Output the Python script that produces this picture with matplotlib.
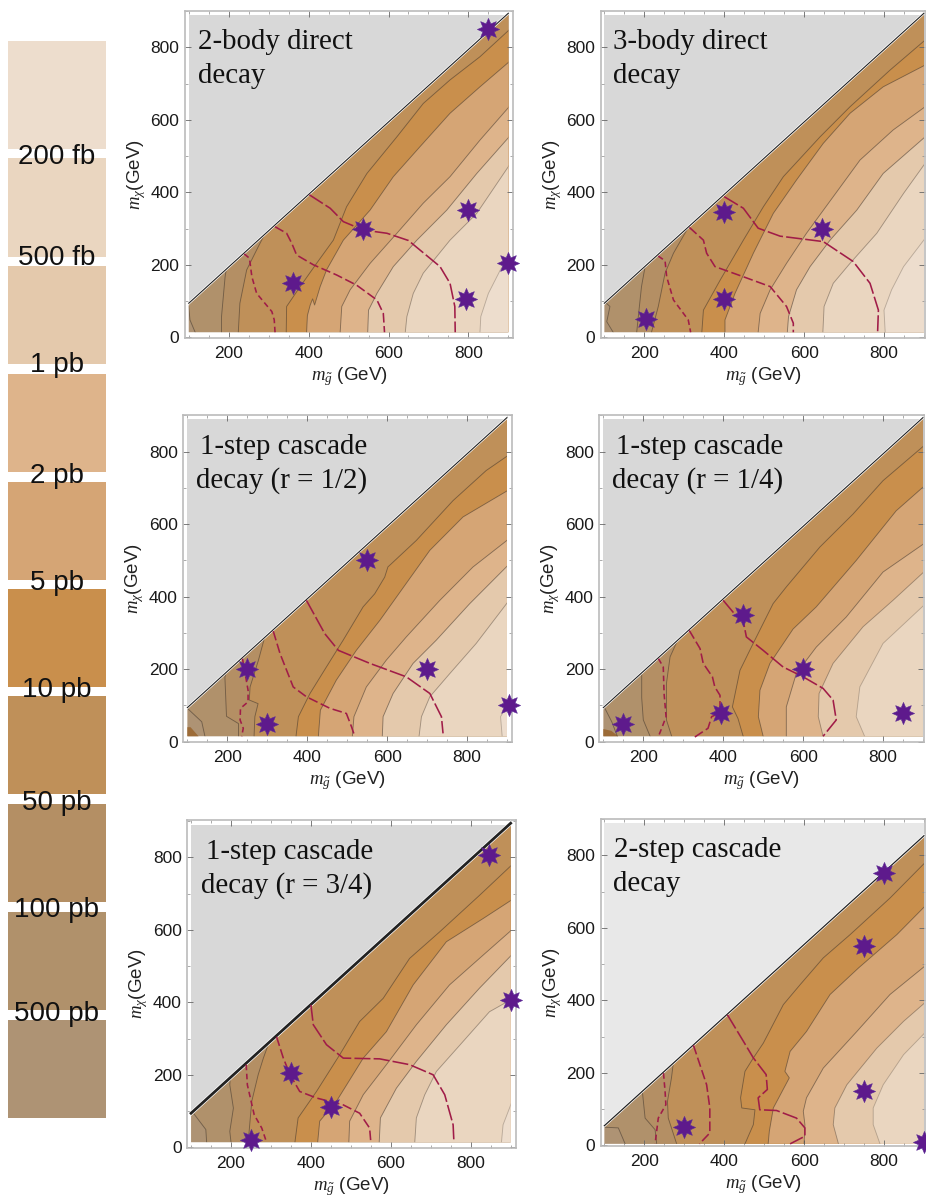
import matplotlib
matplotlib.use('Agg')
import matplotlib.pyplot as plt
from matplotlib.patches import Polygon
from matplotlib.path import Path

plt.rcParams['font.family'] = ['Liberation Sans', 'DejaVu Sans']
plt.rcParams['mathtext.fontset'] = 'custom'
plt.rcParams['mathtext.rm'] = 'Liberation Sans'
plt.rcParams['mathtext.it'] = 'Liberation Serif:italic'

# Colour key, lightest first
key_colors = ['#EDDDCD', '#EAD6C0', '#E4C9AC', '#DEB48B', '#D5A575', '#C98F4C', '#BF9059', '#B48F64', '#B0916B', '#AE9374']
key_labels = ['200 fb', '500 fb', '1 pb', '2 pb', '5 pb', '10 pb', '50 pb', '100 pb', '500 pb']

# Contours in GeV (mgluino, mchi), lightest band first
contours_2body = [
    [(829, 14), (831, 57), (850, 121), (880, 186), (902, 222)],
    [(642, 14), (646, 57), (662, 121), (687, 177), (754, 268), (821, 342), (902, 474)],
    [(548, 14), (550, 75), (571, 121), (612, 195), (671, 268), (746, 351), (821, 452), (902, 553)],
    [(479, 14), (483, 85), (504, 131), (554, 204), (621, 287), (687, 370), (754, 443), (829, 544), (902, 636)],
    [(395, 14), (397, 60), (404, 89), (410, 106), (415, 89), (429, 140), (445, 186), (487, 268), (554, 351), (612, 443), (679, 526), (754, 618), (829, 691), (902, 760)],
    [(344, 14), (345, 85), (379, 140), (420, 204), (462, 268), (495, 360), (546, 452), (621, 553), (687, 645), (754, 710), (829, 774), (902, 848)],
    [(224, 14), (228, 94), (245, 186), (274, 250), (295, 295)],
    [(182, 14), (182, 57), (191, 167), (195, 195)],
    [(116, 14), (103, 48), (100, 85)],
]
dashes_2body = [
    [(239, 230), (252, 218), (258, 167), (270, 121), (308, 71), (314, 48), (316, 14)],
    [(316, 305), (345, 287), (358, 259), (370, 227), (412, 200), (470, 172), (520, 144), (571, 103), (587, 66), (590, 14)],
    [(402, 393), (454, 356), (487, 319), (537, 296), (596, 287), (650, 267), (729, 195), (754, 149), (766, 85), (767, 14)],
]
stars_2body = [(850, 850), (800, 350), (900, 205), (795, 105), (535, 300), (360, 150)]

contours_3body = [
    [(803, 14), (800, 75), (819, 131), (849, 195), (903, 273)],
    [(647, 14), (650, 85), (673, 149), (715, 204), (782, 287), (849, 397), (903, 480)],
    [(558, 14), (561, 57), (581, 131), (615, 195), (665, 268), (732, 351), (798, 452), (903, 553)],
    [(485, 14), (490, 66), (515, 131), (556, 204), (606, 287), (673, 388), (740, 489), (823, 572), (903, 636)],
    [(402, 14), (402, 48), (427, 121), (473, 232), (523, 342), (581, 434), (648, 535), (715, 618), (798, 691), (903, 751)],
    [(344, 14), (348, 75), (390, 158), (448, 268), (498, 360), (548, 443), (640, 553), (715, 636), (815, 737), (903, 820)],
    [(218, 14), (235, 85), (252, 177), (273, 232), (310, 303)],
    [(181, 14), (185, 57), (193, 140), (202, 195)],
    [(122, 14), (106, 43), (114, 85), (101, 98)],
]
dashes_3body = [
    [(235, 224), (252, 211), (256, 167), (273, 103), (310, 48), (316, 14)],
    [(313, 303), (348, 268), (356, 232), (377, 195), (448, 167), (515, 140), (556, 85), (573, 39), (573, 14)],
    [(400, 388), (448, 356), (485, 301), (540, 279), (648, 264), (723, 209), (765, 149), (786, 75), (784, 14)],
]
stars_3body = [(205, 50), (400, 345), (400, 105), (645, 300)]

contours_r12 = [
    [(888, 15), (884, 69), (902, 104)],
    [(680, 15), (686, 69), (707, 124), (757, 188), (823, 271), (902, 385)],
    [(588, 15), (590, 69), (615, 133), (665, 216), (723, 280), (807, 381), (902, 486)],
    [(513, 15), (517, 69), (548, 151), (598, 225), (648, 289), (732, 390), (815, 482), (902, 557)],
    [(428, 15), (433, 87), (473, 170), (523, 252), (582, 335), (707, 528), (790, 620), (902, 693)],
    [(372, 15), (378, 69), (407, 133), (448, 206), (490, 280), (540, 372), (569, 408), (594, 454), (602, 482), (673, 555), (765, 665), (848, 748), (902, 789)],
    [(267, 15), (269, 69), (277, 105), (255, 115), (257, 151), (278, 225), (294, 290)],
    [(228, 15), (228, 50), (198, 70), (194, 178), (198, 195)],
    [(144, 15), (136, 55), (100, 92)],
]
dashes_r12 = [
    [(238, 229), (252, 142), (252, 110), (233, 92), (232, 60), (240, 37), (236, 15)],
    [(315, 305), (332, 243), (365, 151), (398, 124), (457, 92), (498, 78), (511, 41), (519, 15)],
    [(398, 390), (444, 298), (478, 252), (557, 216), (648, 179), (707, 133), (736, 69), (740, 23)],
]
stars_r12 = [(550, 500), (250, 200), (300, 50), (700, 200), (905, 100)]
corner_r12 = [(100, 15), (128, 15), (108, 40), (100, 40)]

contours_r14 = [
    [(754, 15), (733, 69), (742, 151), (800, 271), (902, 376)],
    [(650, 15), (638, 69), (640, 133), (675, 216), (750, 317), (825, 390), (902, 468)],
    [(558, 15), (558, 96), (583, 188), (633, 261), (708, 344), (800, 468), (902, 546)],
    [(500, 15), (488, 69), (492, 142), (517, 216), (575, 311), (633, 372), (733, 500), (833, 637), (902, 704)],
    [(450, 15), (437, 64), (423, 96), (442, 197), (475, 271), (525, 381), (558, 427), (642, 537), (725, 628), (800, 720), (902, 816)],
    [(271, 15), (258, 60), (258, 161), (267, 234), (288, 285)],
    [(217, 15), (200, 60), (196, 121), (196, 190)],
    [(135, 15), (121, 55), (102, 96)],
]
dashes_r14 = [
    [(238, 229), (250, 206), (252, 133), (257, 69), (246, 37), (238, 15)],
    [(315, 307), (342, 257), (350, 216), (373, 179), (379, 151), (392, 128), (392, 80), (371, 69), (362, 37), (329, 13)],
    [(400, 390), (425, 357), (450, 334), (458, 289), (500, 252), (550, 206), (600, 179), (650, 147), (675, 115), (683, 60), (650, 15)],
]
stars_r14 = [(150, 50), (450, 350), (600, 200), (395, 80), (850, 80)]
corner_r14 = [(100, 15), (137, 15), (120, 30), (100, 35)]

contours_r34 = [
    [(877, 14), (881, 62), (902, 122)],
    [(660, 14), (664, 81), (685, 145), (714, 209), (781, 292), (847, 374), (902, 408)],
    [(571, 14), (574, 81), (614, 163), (664, 237), (739, 338), (822, 439), (902, 530)],
    [(495, 14), (497, 72), (531, 145), (589, 228), (664, 338), (747, 448), (831, 530), (902, 599)],
    [(417, 14), (422, 72), (464, 127), (531, 246), (589, 319), (656, 448), (739, 567), (831, 631), (902, 682)],
    [(360, 14), (368, 81), (414, 154), (472, 255), (522, 347), (581, 411), (647, 521), (722, 594), (822, 695), (902, 778)],
    [(243, 14), (252, 127), (268, 200), (281, 246), (297, 295)],
    [(200, 14), (197, 44), (206, 108), (197, 172), (198, 192)],
    [(139, 14), (137, 49), (106, 94)],
]
dashes_r34 = [
    [(238, 228), (241, 172), (258, 90), (277, 53), (289, 14)],
    [(314, 305), (331, 246), (348, 200), (372, 154), (414, 136), (481, 117), (522, 94), (547, 53), (550, 14)],
    [(400, 393), (406, 338), (439, 283), (481, 246), (572, 244), (647, 228), (706, 200), (735, 145), (756, 62), (758, 14)],
]
stars_r34 = [(845, 805), (900, 405), (350, 205), (450, 110), (250, 20)]

contours_2step = [
    [(790, 4), (773, 57), (773, 103), (798, 167), (849, 250), (902, 310)],
    [(686, 4), (673, 57), (677, 103), (707, 167), (782, 268), (849, 342), (902, 393)],
    [(600, 4), (602, 57), (598, 94), (606, 131), (648, 213), (732, 314), (815, 416), (902, 494)],
    [(510, 4), (513, 39), (523, 103), (563, 186), (552, 204), (565, 259), (606, 314), (665, 416), (736, 489), (832, 581), (902, 659)],
    [(452, 4), (473, 57), (477, 98), (444, 103), (441, 131), (452, 204), (473, 241), (498, 282), (548, 388), (590, 443), (648, 517), (715, 581), (815, 682), (902, 779)],
    [(281, 4), (260, 75), (258, 121), (268, 186), (273, 230)],
    [(231, 4), (227, 43), (202, 75), (195, 150)],
    [(152, 4), (135, 48), (100, 50)],
]
dashes_2step = [
    [(248, 199), (252, 149), (254, 112), (235, 75), (227, 4)],
    [(323, 276), (339, 223), (356, 167), (364, 103), (364, 34), (338, 4)],
    [(408, 360), (448, 287), (473, 241), (505, 195), (508, 154), (485, 131), (489, 98), (531, 96), (581, 75), (602, 48), (602, 25), (565, 4)],
]
stars_2step = [(800, 750), (750, 550), (750, 150), (300, 50), (900, 10)]

panels = [
    dict(title=['2-body direct', 'decay'], title_x=[122, 122], contours=contours_2body, dashes=dashes_2body, stars=stars_2body,
         frame=(185, 513, 11, 338), x200=228.7, y0=337.3, first=0, diag=-6, floor=14, gray='#D8D8D8', diag_lw=0.8, corner=None),
    dict(title=['3-body direct', 'decay'], title_x=[121, 121], contours=contours_3body, dashes=dashes_3body, stars=stars_3body,
         frame=(601, 925, 11, 338), x200=644.3, y0=337.3, first=0, diag=-6, floor=14, gray='#D8D8D8', diag_lw=0.8, corner=None),
    dict(title=['1-step cascade', 'decay (r = 1/2)'], title_x=[132, 122], contours=contours_r12, dashes=dashes_r12, stars=stars_r12,
         frame=(183.3, 511.7, 415, 742), x200=227.3, y0=741.7, first=0, diag=-6, floor=15, gray='#D8D8D8', diag_lw=0.8, corner=corner_r12),
    dict(title=['1-step cascade', 'decay (r = 1/4)'], title_x=[132, 121], contours=contours_r14, dashes=dashes_r14, stars=stars_r14,
         frame=(599.3, 924, 415, 742), x200=643.3, y0=741.7, first=1, diag=-6, floor=15, gray='#D8D8D8', diag_lw=0.8, corner=corner_r14),
    dict(title=['1-step cascade', 'decay (r = 3/4)'], title_x=[137, 125], contours=contours_r34, dashes=dashes_r34, stars=stars_r34,
         frame=(187.3, 515.7, 820.3, 1148), x200=231, y0=1147.3, first=0, diag=-6, floor=14, gray='#D8D8D8', diag_lw=2.0, corner=None),
    dict(title=['2-step cascade', 'decay'], title_x=[124, 122], contours=contours_2step, dashes=dashes_2step, stars=stars_2step,
         frame=(601, 925, 818.7, 1145.7), x200=644.3, y0=1145.3, first=1, diag=-46, floor=4, gray='#E8E8E8', diag_lw=0.9, corner=None),
]

W, H = 926, 1198
fig = plt.figure(figsize=(W / 100, H / 100), dpi=100)

# Colour key on the left, drawn in pixel coordinates
key = fig.add_axes([0, 0, 1, 1])
key.set_xlim(0, W)
key.set_ylim(H, 0)
key.axis('off')
key_tops = [41, 158, 266, 374, 482, 589, 696, 804, 912, 1020]
key_bottoms = [149, 257, 364, 472, 580, 687, 794, 902, 1010, 1118]
key_baselines = [164, 265, 372, 483, 590, 697, 810, 917, 1021]
key.bar([57] * 10, [b - t for t, b in zip(key_tops, key_bottoms)], width=98, bottom=key_tops, color=key_colors)
for lab, yb in zip(key_labels, key_baselines):
    key.text(57, yb, lab, ha='center', va='baseline', fontsize=20, color='#111111')

X_SCALE = 0.3995
Y_SCALE = 0.3625
TOP = 950
star = Path.unit_regular_star(8, innerCircle=0.55)


def draw_panel(p):
    l, r, t, b = p['frame']
    ax = fig.add_axes([l / W, 1 - b / H, (r - l) / W, (b - t) / H])
    ax.set_xlim(200 + (l - p['x200']) / X_SCALE, 200 + (r - p['x200']) / X_SCALE)
    ax.set_ylim((p['y0'] - b) / Y_SCALE, (p['y0'] - t) / Y_SCALE)

    d = p['diag']
    floor = p['floor']
    ax.fill([100, 100, 900, 900], [100 + d, 890, 890, 900 + d], color=p['gray'], lw=0)
    region = [(100, floor), (900, floor), (900, 900 + d), (100, 100 + d)]
    clip = Polygon(region, transform=ax.transData)

    # Bands are painted from the darkest inwards, each one covers the lower right side
    n = len(p['contours'])
    ax.fill(*zip(*region), color=key_colors[p['first'] + n], lw=0)
    for i in range(n - 1, -1, -1):
        c = p['contours'][i]
        pts = c + [(c[-1][0], TOP), (TOP, TOP), (TOP, floor), (c[0][0], floor)]
        band = ax.fill(*zip(*pts), color=key_colors[p['first'] + i], lw=0)[0]
        band.set_clip_path(clip)
    if p['corner'] is not None:
        ax.fill(*zip(*p['corner']), color='#9C6B37', lw=0)
    for i, c in enumerate(p['contours']):
        line, = ax.plot(*zip(*c), color='#3A3028', lw=0.65, alpha=0.28 if i == 0 else 0.4 if i == 1 else 0.52)
        line.set_clip_path(clip)

    ax.plot([100, 900], [100 + d, 900 + d], color='#FFFFFF', lw=p['diag_lw'] + 1.0, zorder=3)
    ax.plot([100, 900], [100 + d, 900 + d], color='#222222', lw=p['diag_lw'], zorder=3)

    # Limits of the experiment, longer dashes further out
    for c, dash in zip(p['dashes'], [(3.5, 2.2), (6, 2.2), (10, 2)]):
        ax.plot(*zip(*c), color='#A01C48', lw=1.15, dashes=dash, zorder=4)

    xs, ys = zip(*p['stars'])
    ax.plot(xs, ys, ls='none', marker=star, ms=16, mfc='#5E1A8C', mec='#5A2A96', mew=0.4, zorder=5, clip_on=False)

    for text, x, y in zip(p['title'], p['title_x'], [794, 702]):
        ax.text(x, y, text, family='Liberation Serif', fontsize=20.8, color='#111111', va='baseline', zorder=6)

    ax.set_xticks([200, 400, 600, 800])
    ax.set_yticks([0, 200, 400, 600, 800])
    ax.set_xticks(range(100, 901, 50), minor=True)
    ax.set_yticks(range(100, 901, 100), minor=True)
    ax.tick_params(which='major', direction='in', top=True, right=True, length=4, width=0.6, color='#666666',
                   labelsize=12.5, labelcolor='#1A1A1A', pad=6)
    ax.tick_params(axis='y', which='major', pad=4)
    ax.tick_params(which='minor', direction='in', top=True, right=True, length=2.5, width=0.5, color='#888888')
    for s in ax.spines.values():
        s.set_color('#BBBBBB')
        s.set_linewidth(1.2)
    ax.set_xlabel(r'$m_{\tilde{g}}$ (GeV)', fontsize=13.5, color='#222222', labelpad=3)
    ax.set_ylabel(r'$m_{\chi}$(GeV)', fontsize=13.5, color='#222222', labelpad=2)
    ax.patch.set_alpha(0)
    return ax


for p in panels:
    draw_panel(p)

fig.savefig('out.png', dpi=100)
